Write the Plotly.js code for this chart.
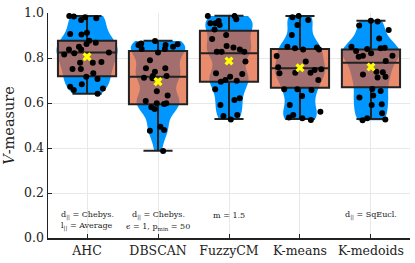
<!DOCTYPE html>
<html>
<head>
<meta charset="utf-8">
<script src="https://cdn.plot.ly/plotly-3.0.1.min.js"></script>
<style>html,body{margin:0;padding:0;background:#fff;}#chart{width:415px;height:263px;}</style>
</head>
<body>
<div id="chart"></div>
<script>
const categories = ['AHC', 'DBSCAN', 'FuzzyCM', 'K-means', 'K-medoids'];

const ahc = [0.984,0.987,0.977,0.969,0.981,0.912,0.905,0.907,0.877,0.868,0.862,0.838,0.85,0.838,0.821,0.824,0.816,0.782,0.779,0.779,0.751,0.751,0.732,0.717,0.707,0.683,0.672,0.665,0.658,0.641];
const dbscan = [0.876,0.858,0.84,0.861,0.84,0.865,0.858,0.85,0.825,0.79,0.754,0.754,0.739,0.72,0.72,0.712,0.71,0.652,0.633,0.609,0.599,0.596,0.599,0.581,0.573,0.495,0.48,0.477,0.387];
const fuzzycm = [0.987,0.987,0.972,0.954,0.947,0.964,0.954,0.927,0.902,0.884,0.853,0.838,0.828,0.828,0.828,0.847,0.784,0.729,0.732,0.717,0.702,0.699,0.695,0.661,0.621,0.613,0.591,0.547,0.542,0.527];
const kmeans = [0.981,0.987,0.969,0.947,0.902,0.847,0.843,0.838,0.85,0.838,0.809,0.784,0.747,0.759,0.75,0.735,0.732,0.735,0.702,0.661,0.661,0.658,0.631,0.591,0.561,0.547,0.532,0.536,0.524];
const kmedoids = [0.962,0.966,0.944,0.924,0.887,0.85,0.846,0.831,0.821,0.84,0.81,0.81,0.787,0.843,0.806,0.739,0.727,0.717,0.737,0.713,0.662,0.653,0.633,0.624,0.594,0.591,0.554,0.532,0.523,0.527];

const q1 = [0.719, 0.594, 0.695, 0.668, 0.670];
const median = [0.824, 0.717, 0.821, 0.754, 0.779];
const q3 = [0.877, 0.831, 0.921, 0.840, 0.838];
const lowerfence = [0.641, 0.388, 0.529, 0.529, 0.529];
const upperfence = [0.987, 0.877, 0.988, 0.987, 0.966];
const means = [0.806, 0.695, 0.787, 0.757, 0.760];

const annotLine1 = ['d<sub>||</sub> = Chebys.', 'd<sub>||</sub> = Chebys.', 'm = 1.5', '', 'd<sub>||</sub> = SqEucl.'];
const annotLine2 = ['l<sub>||</sub> = Average', 'ϵ = 1, p<sub>min</sub> = 50', '', '', ''];

const groups = [ahc, dbscan, fuzzycm, kmeans, kmedoids];
const vx = [], vy = [];
groups.forEach((g, i) => g.forEach(v => { vx.push(categories[i]); vy.push(v); }));

const serif = 'DejaVu Serif';

const traces = [
  {
    type: 'violin', x: vx, y: vy, spanmode: 'hard', width: 0.86, bandwidth: 0.045,
    fillcolor: 'rgb(0,150,255)', line: {width: 0, color: 'rgba(0,0,0,0)'},
    points: false, box: {visible: false}, meanline: {visible: false},
    showlegend: false, hoverinfo: 'skip'
  },
  {
    type: 'box', x: categories, q1: q1, median: median, q3: q3,
    lowerfence: lowerfence, upperfence: upperfence,
    width: 0.82, whiskerwidth: 0.5, boxpoints: false,
    fillcolor: 'rgba(224,96,54,0.72)', line: {color: '#222', width: 2},
    showlegend: false
  },
  {
    type: 'box', x: vx, y: vy, width: 0.82,
    fillcolor: 'rgba(0,0,0,0)', line: {width: 0, color: 'rgba(0,0,0,0)'},
    whiskerwidth: 0,
    boxpoints: 'all', pointpos: 0, jitter: 0.85,
    marker: {color: 'black', size: 6},
    showlegend: false
  },
  {
    type: 'scatter', mode: 'markers', x: categories, y: means,
    marker: {symbol: 'x', color: '#ffff00', size: 8, line: {width: 0}},
    showlegend: false
  }
];

const annotations = [];
categories.forEach((c, i) => {
  if (annotLine1[i]) annotations.push({x: c, y: 0.102, xref: 'x', yref: 'y', text: annotLine1[i], showarrow: false, font: {family: serif, size: 8, color: '#222'}});
  if (annotLine2[i]) annotations.push({x: c, y: 0.050, xref: 'x', yref: 'y', text: annotLine2[i], showarrow: false, font: {family: serif, size: 8, color: '#222'}});
});

const layout = {
  width: 415, height: 263,
  margin: {l: 48, r: 5, t: 13, b: 25},
  paper_bgcolor: '#fff', plot_bgcolor: '#fff',
  showlegend: false,
  violinmode: 'overlay', boxmode: 'overlay',
  font: {family: serif, color: '#222'},
  xaxis: {
    type: 'category', categoryarray: categories, range: [-0.55, 4.55],
    showgrid: true, gridcolor: '#e8e8e8', gridwidth: 1,
    showline: true, linecolor: '#222', linewidth: 1.5,
    ticks: 'inside', ticklen: 4, tickcolor: '#222',
    tickfont: {family: serif, size: 12.5, color: '#222'},
    zeroline: false
  },
  yaxis: {
    range: [0, 1], dtick: 0.2, tickformat: '.1f',
    showgrid: true, gridcolor: '#e8e8e8', gridwidth: 1,
    showline: true, linecolor: '#222', linewidth: 1.5,
    ticks: 'inside', ticklen: 4, tickcolor: '#222',
    tickfont: {family: serif, size: 12.5, color: '#222'},
    zeroline: false,
    title: {text: '<i>V</i>-measure', font: {family: serif, size: 14.5, color: '#222'}, standoff: 6}
  },
  annotations: annotations
};

Plotly.newPlot('chart', traces, layout, {staticPlot: true, displayModeBar: false});
</script>
</body>
</html>
